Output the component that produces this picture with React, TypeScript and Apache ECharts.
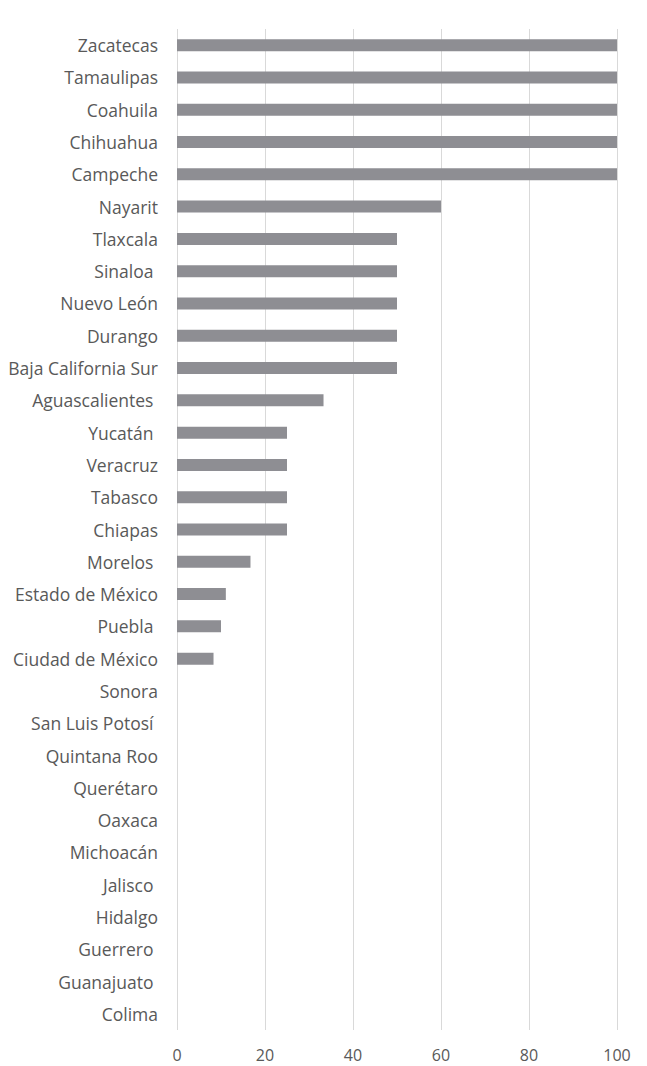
import React, { useEffect, useRef } from "react";
import * as echarts from "echarts";

const categories = [
  "Zacatecas", "Tamaulipas", "Coahuila", "Chihuahua", "Campeche", "Nayarit",
  "Tlaxcala", "Sinaloa ", "Nuevo León", "Durango", "Baja California Sur",
  "Aguascalientes ", "Yucatán ", "Veracruz", "Tabasco", "Chiapas", "Morelos ",
  "Estado de México", "Puebla ", "Ciudad de México", "Sonora", "San Luis Potosí ",
  "Quintana Roo", "Querétaro", "Oaxaca", "Michoacán", "Jalisco ", "Hidalgo",
  "Guerrero ", "Guanajuato ", "Colima",
];

const values = [
  100, 100, 100, 100, 100, 60,
  50, 50, 50, 50, 50,
  33.3, 25, 25, 25, 25, 16.7,
  11.1, 10, 8.3, 0, 0,
  0, 0, 0, 0, 0, 0,
  0, 0, 0,
];

const xTicks = { min: 0, max: 100, interval: 20 };

export default function App() {
  const ref = useRef<HTMLDivElement>(null);
  useEffect(() => {
    if (!ref.current) return;
    const chart = echarts.init(ref.current, null, { renderer: "svg" });
    chart.setOption({
      animation: false,
      textStyle: { fontFamily: "'Open Sans', sans-serif" },
      grid: { left: 177, right: 30, top: 29, bottom: 36, containLabel: false },
      xAxis: {
        type: "value",
        min: xTicks.min,
        max: xTicks.max,
        interval: xTicks.interval,
        axisLine: { show: false },
        axisTick: { show: false },
        splitLine: { show: true, lineStyle: { color: "#d9d9d9", width: 1 } },
        axisLabel: { color: "#595959", fontSize: 16, margin: 17 },
      },
      yAxis: {
        type: "category",
        data: categories,
        inverse: true,
        axisLine: { show: false },
        axisTick: { show: false },
        axisLabel: { color: "#595959", fontSize: 17.5, margin: 19, interval: 0 },
      },
      series: [
        {
          type: "bar",
          data: values,
          barWidth: 12,
          itemStyle: { color: "#8e8e93" },
          silent: true,
        },
      ],
    });
    return () => chart.dispose();
  }, []);
  return <div ref={ref} style={{ width: 647, height: 1066, position: "absolute", left: 0, top: 0 }} />;
}
